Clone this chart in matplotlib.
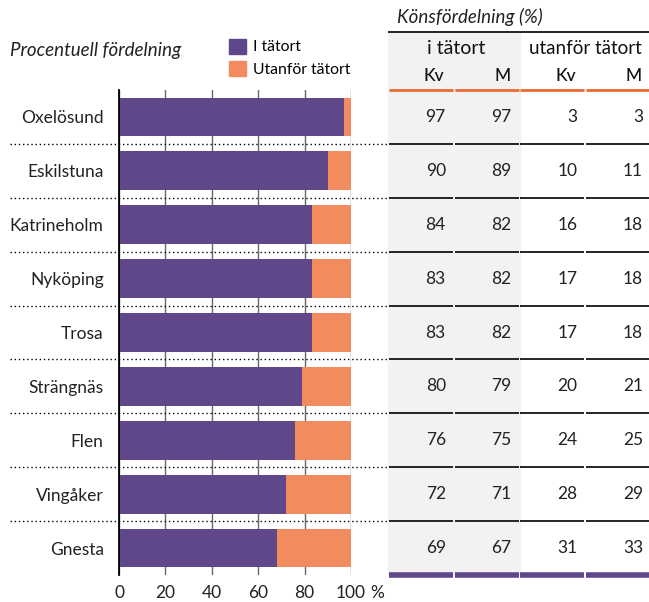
import matplotlib.pyplot as plt
from matplotlib.patches import Patch

kommuner = ['Oxelösund', 'Eskilstuna', 'Katrineholm', 'Nyköping', 'Trosa',
            'Strängnäs', 'Flen', 'Vingåker', 'Gnesta']
i_tatort = [97, 90, 83, 83, 83, 79, 76, 72, 68]
utanfor = [100 - v for v in i_tatort]

kv_i = [97, 90, 84, 83, 83, 80, 76, 72, 69]
m_i = [97, 89, 82, 82, 82, 79, 75, 71, 67]
kv_u = [3, 10, 16, 17, 17, 20, 24, 28, 31]
m_u = [3, 11, 18, 18, 18, 21, 25, 29, 33]

xticks = [0, 20, 40, 60, 80, 100]

PURPLE = '#5f4789'
ORANGE = '#f28c5f'
LINE_ORANGE = '#ea6a30'
GREY_BG = '#f2f2f2'

plt.rcParams['font.family'] = ['Lato', 'DejaVu Sans']

W, H = 649, 602
fig = plt.figure(figsize=(W / 100, H / 100), dpi=100)


def px_box(x0, x1, y0, y1):
    return [x0 / W, 1 - y1 / H, (x1 - x0) / W, (y1 - y0) / H]


# bar chart
ax = fig.add_axes(px_box(119, 351, 90, 575))
n = len(kommuner)
rows = list(range(n))
ax.barh(rows, i_tatort, height=0.72, color=PURPLE, zorder=3)
ax.barh(rows, utanfor, left=i_tatort, height=0.72, color=ORANGE, zorder=3)
ax.set_xlim(0, 100)
ax.set_ylim(n - 0.5, -0.5)
ax.set_yticks(rows)
ax.set_yticklabels(kommuner, fontsize=12.5, color='#222222')
ax.set_xticks(xticks)
ax.set_xticklabels([str(t) for t in xticks], fontsize=12.5, color='#222222')
ax.tick_params(axis='both', length=0)
ax.tick_params(axis='y', pad=11)
ax.tick_params(axis='x', pad=7)
ax.annotate('%', xy=(100, n - 0.5), xytext=(19, -7), textcoords='offset points',
            ha='center', va='top', fontsize=12.5, color='#222222',
            annotation_clip=False)
ax.grid(axis='x', color='#666666', lw=1, zorder=1)
for s in ['top', 'right', 'bottom']:
    ax.spines[s].set_visible(False)
ax.spines['left'].set_color('black')
ax.spines['left'].set_linewidth(1.3)
ax.spines['left'].set_zorder(4)

# dotted row separators
for r in range(n - 1):
    ax.hlines(r + 0.5, -47, 116, color='black', lw=1, linestyles=(0, (1, 2)),
              clip_on=False, zorder=2)

ax.text(-47, -1.23, 'Procentuell fördelning', fontsize=13.5, style='italic',
        color='#222222', va='center', ha='left')
ax.legend(handles=[Patch(color=PURPLE, label='I tätort'),
                   Patch(color=ORANGE, label='Utanför tätort')],
          loc='upper left', bbox_to_anchor=(0.474, 1.106), frameon=False,
          fontsize=11.3, handlelength=1.1, handleheight=1.1, handletextpad=0.45,
          labelspacing=0.4, borderaxespad=0, borderpad=0)

# table
tx = fig.add_axes(px_box(388, 651, 90, 575))
tx.set_xlim(0, 4)
tx.set_ylim(n - 0.5, -0.5)
tx.axis('off')

top_y = -1.58
tx.fill_between([0, 2], top_y, n - 0.5, color=GREY_BG, zorder=0, clip_on=False)
tx.hlines(top_y, 0, 4, color='black', lw=1.2, clip_on=False)
tx.text(0.13, -1.85, 'Könsfördelning (%)', fontsize=13.5, style='italic',
        color='#222222', va='center', ha='left')
tx.text(1.03, -1.27, 'i tätort', fontsize=14, ha='center', va='center',
        color='#111111')
tx.text(3.0, -1.27, 'utanför tätort', fontsize=13.5, ha='center', va='center',
        color='#111111')
for c, lab in enumerate(['Kv', 'M', 'Kv', 'M']):
    tx.text(c + 0.86, -0.76, lab, fontsize=12.5, ha='right', va='center',
            color='#111111', fontweight='medium')

gap = 0.012
for c in range(4):
    tx.hlines(-0.5, c + gap, c + 1 - gap, color=LINE_ORANGE, lw=2, clip_on=False)
    tx.hlines(n - 0.5, c + gap, c + 1 - gap, color=PURPLE, lw=4, clip_on=False)
    for r in range(n - 1):
        tx.hlines(r + 0.5, c + gap, c + 1 - gap, color='black', lw=1.2)

for c, col in enumerate([kv_i, m_i, kv_u, m_u]):
    for r, v in enumerate(col):
        tx.text(c + 0.88, r, str(v), fontsize=12.5, ha='right', va='center',
                color='#222222')

fig.savefig('out.png', dpi=100)
